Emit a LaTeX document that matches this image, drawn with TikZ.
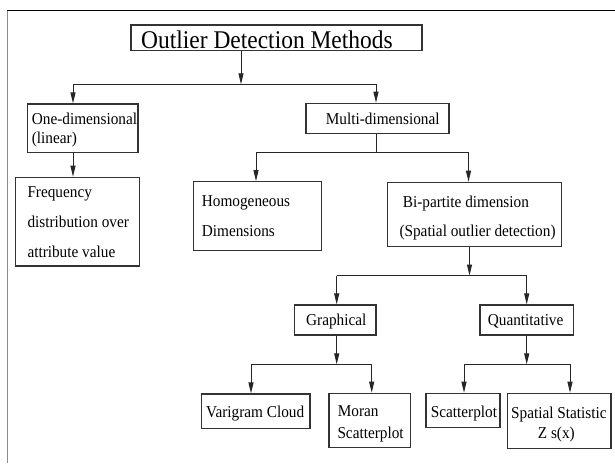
\documentclass[tikz,border=0pt]{standalone}
\usepackage{fontspec}
\setmainfont[FakeStretch=0.92]{Liberation Serif}
\usetikzlibrary{arrows.meta}

\newcommand{\smallfnt}{\fontsize{16.6}{19}\selectfont}
\newcommand{\bigfnt}{\fontsize{25.5}{28}\selectfont}

\tikzset{
  box/.style={draw=black!80, line width=1.2pt, rectangle, inner sep=0pt},
  conn/.style={draw=black!85, line width=1pt},
  arr/.style={conn, -{Triangle[length=11pt,width=5pt]}},
  lbl/.style={anchor=base west, inner sep=0pt, font=\smallfnt},
}

\begin{document}
\begin{tikzpicture}[x=1pt, y=-1pt]
  % canvas
  \fill[white] (0,0) rectangle (615,463);
  \useasboundingbox (0,0) rectangle (615,463);

  % frame edges (top and left only)
  \draw[black, line width=1.5pt] (6.8,10.5) -- (615,10.5);
  \draw[black!45, line width=1.6pt] (7.5,10.5) -- (7.5,463);

  % boxes
  \node[box, minimum width=291pt,   minimum height=25.7pt] (title)   at (276.5,37.85) {};
  \node[box, minimum width=110.7pt, minimum height=48.7pt] (onedim)  at (82.65,128.35) {};
  \node[box, minimum width=143pt,   minimum height=30pt]   (multi)   at (377.5,118.3) {};
  \node[box, minimum width=123.6pt, minimum height=88.7pt] (freq)    at (77.5,221.65) {};
  \node[box, minimum width=128.4pt, minimum height=69pt]   (homog)   at (257.5,216.2) {};
  \node[box, minimum width=174.4pt, minimum height=64.4pt] (bipart)  at (474.5,214.5) {};
  \node[box, minimum width=81.7pt,  minimum height=30pt]   (graph)   at (335.15,320) {};
  \node[box, minimum width=93.3pt,  minimum height=30pt]   (quant)   at (526.65,320) {};
  \node[box, minimum width=108.3pt, minimum height=34.3pt] (vari)    at (255.85,411.15) {};
  \node[box, minimum width=81.7pt,  minimum height=54pt]   (moran)   at (369.85,420.3) {};
  \node[box, minimum width=74pt,    minimum height=34.4pt] (scatter) at (463,410.5) {};
  \node[box, minimum width=103.7pt, minimum height=55pt]   (spatial) at (559.15,420.8) {};

  % labels
  \node[lbl, font=\bigfnt] (t-title) at (141,48.3) {Outlier Detection Methods};
  \node[lbl] (t-one1) at (31.7,124.3) {One-dimensional};
  \node[lbl] (t-one2) at (31.7,143.3) {(linear)};
  \node[lbl] (t-multi) at (325.7,124.7) {Multi-dimensional};
  \node[lbl] (t-freq1) at (27.3,197.3) {Frequency};
  \node[lbl] (t-freq2) at (27.3,227.3) {distribution over};
  \node[lbl] (t-freq3) at (27.3,257.3) {attribute value};
  \node[lbl] (t-hom1) at (201.7,206.7) {Homogeneous};
  \node[lbl] (t-hom2) at (201.7,236.7) {Dimensions};
  \node[lbl] (t-bi1) at (402.7,207.3) {Bi-partite dimension};
  \node[lbl] (t-bi2) at (399.3,236.7) {(Spatial outlier detection)};
  \node[lbl] (t-graph) at (306,325) {Graphical};
  \node[lbl] (t-quant) at (487.7,325) {Quantitative};
  \node[lbl] (t-vari) at (206,417) {Varigram Cloud};
  \node[lbl] (t-mor1) at (337.7,416.7) {Moran};
  \node[lbl] (t-mor2) at (337.3,438.3) {Scatterplot};
  \node[lbl] (t-scat) at (430.7,417) {Scatterplot};
  \node[lbl] (t-sp1) at (511,418.3) {Spatial Statistic};
  \node[lbl] (t-sp2) at (537.7,438.3) {Z s(x)};

  % bus junctions
  \coordinate (j0)  at (241,84.3);
  \coordinate (j0l) at (73,84.3);
  \coordinate (j0r) at (376,84.3);
  \coordinate (j1)  at (376,152.7);
  \coordinate (j1l) at (256,152.7);
  \coordinate (j1r) at (468.5,152.7);
  \coordinate (j2)  at (469.5,275.5);
  \coordinate (j2l) at (336.7,275.5);
  \coordinate (j2r) at (526.7,275.5);
  \coordinate (j3)  at (336.7,364.3);
  \coordinate (j3l) at (251,364.3);
  \coordinate (j3r) at (371.7,364.3);
  \coordinate (j4)  at (526.7,364.3);
  \coordinate (j4l) at (464,364.3);
  \coordinate (j4r) at (570,364.3);

  % top level
  \draw[arr] (title.south -| j0) -- (j0);
  \draw[conn] (j0l) -- (j0r);
  \draw[arr] (j0l) -- (onedim.north -| j0l);
  \draw[arr] (j0r) -- (multi.north -| j0r);

  % one-dimensional branch
  \draw[arr] (onedim.south -| j0l) -- (freq.north -| j0l);

  % multi-dimensional branch
  \draw[conn] (multi.south -| j1) -- (j1);
  \draw[conn] (j1l) -- (j1r);
  \draw[arr] (j1l) -- (homog.north -| j1l);
  \draw[arr] (j1r) -- (bipart.north -| j1r);

  % bi-partite branch
  \draw[arr] (bipart.south -| j2) -- (j2);
  \draw[conn] (j2l) -- (j2r);
  \draw[arr] (j2l) -- (graph.north -| j2l);
  \draw[arr] (j2r) -- (quant.north -| j2r);

  % graphical methods
  \draw[arr] (graph.south -| j3) -- (j3);
  \draw[conn] (j3l) -- (j3r);
  \draw[arr] (j3l) -- (vari.north -| j3l);
  \draw[arr] (j3r) -- (moran.north -| j3r);

  % quantitative methods
  \draw[arr] (quant.south -| j4) -- (j4);
  \draw[conn] (j4l) -- (j4r);
  \draw[arr] (j4l) -- (scatter.north -| j4l);
  \draw[arr] (j4r) -- (spatial.north -| j4r);
\end{tikzpicture}
\end{document}
